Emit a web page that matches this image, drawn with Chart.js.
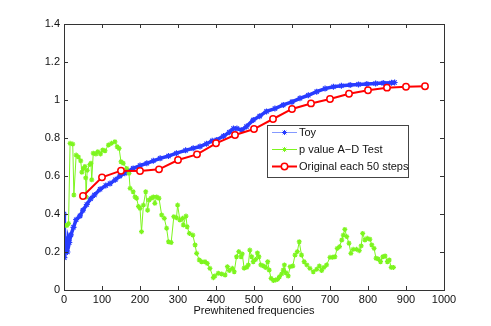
<!DOCTYPE html>
<html><head><meta charset="utf-8">
<script src="https://cdn.jsdelivr.net/npm/chart.js@4/dist/chart.umd.min.js"></script>
<style>html,body{margin:0;padding:0;background:#fff}#wrap{width:491px;height:326px}</style>
</head><body><div id="wrap"><canvas id="c" width="491" height="326"></canvas></div>
<script>
const xTicks = [0,100,200,300,400,500,600,700,800,900,1000];
const yTicks = [0,0.2,0.4,0.6,0.8,1,1.2,1.4];
const seriesNames = ['Toy','p value A\u2212D Test','Original each 50 steps'];
const xLabel = 'Prewhitened frequencies';

const toyX = [0,1,3,5,7,9,11,14,18,25,32,42,50,60,70,80,95,110,121,135,147,160,170,182,200,218,235,253,275,296,320,340,358,375,390,402,420,435,446,455,468,480,498,515,533,555,577,600,621,643,665,687,709,730,753,775,797,820,840,862,870];
const toyY = [0.40,0.17,0.20,0.22,0.24,0.20,0.27,0.25,0.29,0.33,0.37,0.39,0.42,0.45,0.48,0.50,0.53,0.55,0.56,0.58,0.60,0.615,0.625,0.64,0.655,0.667,0.68,0.693,0.705,0.72,0.735,0.746,0.755,0.77,0.785,0.79,0.81,0.83,0.85,0.85,0.842,0.86,0.895,0.915,0.94,0.955,0.974,0.99,1.009,1.025,1.044,1.06,1.07,1.075,1.079,1.082,1.084,1.087,1.089,1.091,1.092];

const pX = [3,8,12,16,23,26,32,38,44,47,51,55,57,58,61,68,71,73,77,84,89,96,102,108,117,125,134,140,145,150,156,165,171,174,182,187,191,196,200,204,209,215,220,224,229,235,239,244,250,257,264,270,275,282,289,296,299,305,312,314,321,324,330,339,345,349,356,362,371,377,384,393,397,406,415,424,430,435,443,448,454,460,466,469,474,481,485,489,494,498,504,509,513,518,525,531,536,540,545,551,557,562,567,573,577,580,584,590,595,602,608,614,619,625,632,639,647,656,665,672,678,684,691,700,707,713,719,725,731,735,739,744,750,755,761,770,777,782,786,792,798,805,810,816,821,827,833,839,845,851,856,861,867];
const pY = [0.34,0.34,0.35,0.772,0.768,0.50,0.71,0.70,0.68,0.62,0.64,0.65,0.59,0.49,0.63,0.66,0.667,0.58,0.72,0.716,0.728,0.716,0.737,0.733,0.763,0.772,0.78,0.754,0.745,0.675,0.667,0.64,0.614,0.535,0.517,0.49,0.483,0.44,0.43,0.307,0.447,0.517,0.42,0.474,0.483,0.49,0.456,0.49,0.483,0.395,0.377,0.325,0.254,0.25,0.386,0.38,0.447,0.368,0.377,0.342,0.389,0.333,0.298,0.289,0.237,0.193,0.158,0.149,0.149,0.14,0.114,0.065,0.074,0.088,0.084,0.079,0.123,0.102,0.114,0.096,0.175,0.202,0.175,0.19,0.115,0.12,0.132,0.21,0.175,0.149,0.16,0.195,0.175,0.132,0.126,0.118,0.149,0.105,0.061,0.05,0.053,0.056,0.07,0.085,0.105,0.132,0.091,0.074,0.123,0.126,0.184,0.202,0.254,0.184,0.149,0.132,0.114,0.096,0.109,0.126,0.102,0.119,0.132,0.172,0.172,0.175,0.219,0.228,0.263,0.289,0.319,0.281,0.246,0.193,0.214,0.214,0.207,0.232,0.298,0.263,0.272,0.267,0.237,0.219,0.167,0.163,0.149,0.175,0.179,0.149,0.158,0.119,0.119];

const origX = [50,100,150,200,250,300,350,400,450,500,550,600,650,700,750,800,850,900,950];
const origY = [0.495,0.593,0.628,0.626,0.635,0.684,0.714,0.772,0.816,0.847,0.90,0.953,0.982,1.005,1.033,1.051,1.065,1.07,1.072];

const zip = (xs, ys) => xs.map((x, i) => ({x, y: ys[i]}));
const BLUE = 'rgb(40,60,255)';
const BLUE_L = 'rgba(80,110,255,0.7)';
const GREEN = 'rgb(125,245,30)';
const RED = 'rgb(255,0,0)';
const AX = '#333';
const FONT = '"Liberation Sans", Arial, sans-serif';

const frame = {
  id: 'frame',
  afterDraw(chart) {
    const {ctx, chartArea: a, scales: {x, y}} = chart;
    ctx.save();
    ctx.strokeStyle = AX; ctx.lineWidth = 1;
    ctx.strokeRect(Math.round(a.left) + 0.5, Math.round(a.top) + 0.5, Math.round(a.right - a.left), Math.round(a.bottom - a.top));
    ctx.beginPath();
    const L = 4;
    xTicks.forEach(v => {
      const px = Math.round(x.getPixelForValue(v)) + 0.5;
      ctx.moveTo(px, a.bottom); ctx.lineTo(px, a.bottom - L);
      ctx.moveTo(px, a.top); ctx.lineTo(px, a.top + L);
    });
    yTicks.forEach(v => {
      const py = Math.round(y.getPixelForValue(v)) + 0.5;
      ctx.moveTo(a.left, py); ctx.lineTo(a.left + L, py);
      ctx.moveTo(a.right, py); ctx.lineTo(a.right - L, py);
    });
    ctx.stroke();
    ctx.fillStyle = '#111';
    ctx.font = '11px ' + FONT;
    ctx.textAlign = 'center'; ctx.textBaseline = 'middle';
    ctx.fillText(xLabel, (a.left + a.right) / 2, 311);
    // legend
    const lx = 267, ly = 125, lw = 141, lh = 52;
    ctx.fillStyle = '#fff';
    ctx.fillRect(lx, ly, lw, lh);
    ctx.strokeStyle = '#444';
    ctx.strokeRect(lx + 0.5, ly + 0.5, lw, lh);
    const rows = [132.5, 149.5, 166.5];
    const styles = [
      {c: BLUE_L, w: 1, mc: BLUE, r: 2.5},
      {c: GREEN, w: 1, mc: GREEN, r: 2.5},
      {c: RED, w: 2, mc: RED, r: 3.2}
    ];
    rows.forEach((ry, i) => {
      const s = styles[i];
      ctx.strokeStyle = s.c; ctx.lineWidth = s.w;
      ctx.beginPath(); ctx.moveTo(272, ry); ctx.lineTo(297, ry); ctx.stroke();
      ctx.strokeStyle = s.mc; ctx.fillStyle = i === 2 ? '#fff' : s.mc;
      if (i === 2) {
        ctx.lineWidth = 1.5;
        ctx.beginPath(); ctx.arc(284.5, ry, s.r, 0, Math.PI * 2); ctx.fill(); ctx.stroke();
      } else {
        Chart.helpers.drawPoint(ctx, {pointStyle: 'star', radius: s.r, borderWidth: 1}, 284.5, ry);
      }
      ctx.fillStyle = '#111';
      ctx.font = '11px ' + FONT;
      ctx.textAlign = 'left'; ctx.textBaseline = 'middle';
      ctx.fillText(seriesNames[i], 299, ry + 0.5);
    });
    ctx.restore();
  }
};

new Chart(document.getElementById('c'), {
  type: 'scatter',
  data: {
    datasets: [
      {label: seriesNames[0], data: zip(toyX, toyY), showLine: true, borderColor: BLUE, borderWidth: 3.5,
       pointStyle: 'star', pointRadius: 3, pointBorderColor: BLUE, pointBackgroundColor: BLUE, pointBorderWidth: 1.2, order: 3},
      {label: seriesNames[1], data: zip(pX, pY), showLine: true, borderColor: GREEN, borderWidth: 1,
       pointStyle: 'star', pointRadius: 2.5, pointBorderColor: GREEN, pointBackgroundColor: GREEN, pointBorderWidth: 1.2, order: 2},
      {label: seriesNames[2], data: zip(origX, origY), showLine: true, borderColor: RED, borderWidth: 2,
       pointStyle: 'circle', pointRadius: 3.2, pointBorderColor: RED, pointBackgroundColor: '#fff', pointBorderWidth: 1.5, order: 1}
    ]
  },
  options: {
    responsive: false, animation: false,
    layout: {padding: {left: 0, top: 24, right: 47, bottom: 0}},
    plugins: {legend: {display: false}, tooltip: {enabled: false}},
    scales: {
      x: {type: 'linear', min: 0, max: 1000,
          afterBuildTicks: s => { s.ticks = xTicks.map(v => ({value: v})); },
          afterFit: s => { s.height = 36; },
          grid: {display: false, drawTicks: false}, border: {display: false},
          ticks: {padding: 3, color: '#111', font: {family: FONT, size: 11}, maxRotation: 0, autoSkip: false,
                  callback: v => String(v)}},
      y: {type: 'linear', min: 0, max: 1.4,
          afterBuildTicks: s => { s.ticks = yTicks.map(v => ({value: v})); },
          afterFit: s => { s.width = 64; },
          grid: {display: false, drawTicks: false}, border: {display: false},
          ticks: {padding: 4, color: '#111', font: {family: FONT, size: 11}, autoSkip: false,
                  callback: v => String(Math.round(v * 10) / 10)}}
    }
  },
  plugins: [frame]
});
</script>
</body></html>
